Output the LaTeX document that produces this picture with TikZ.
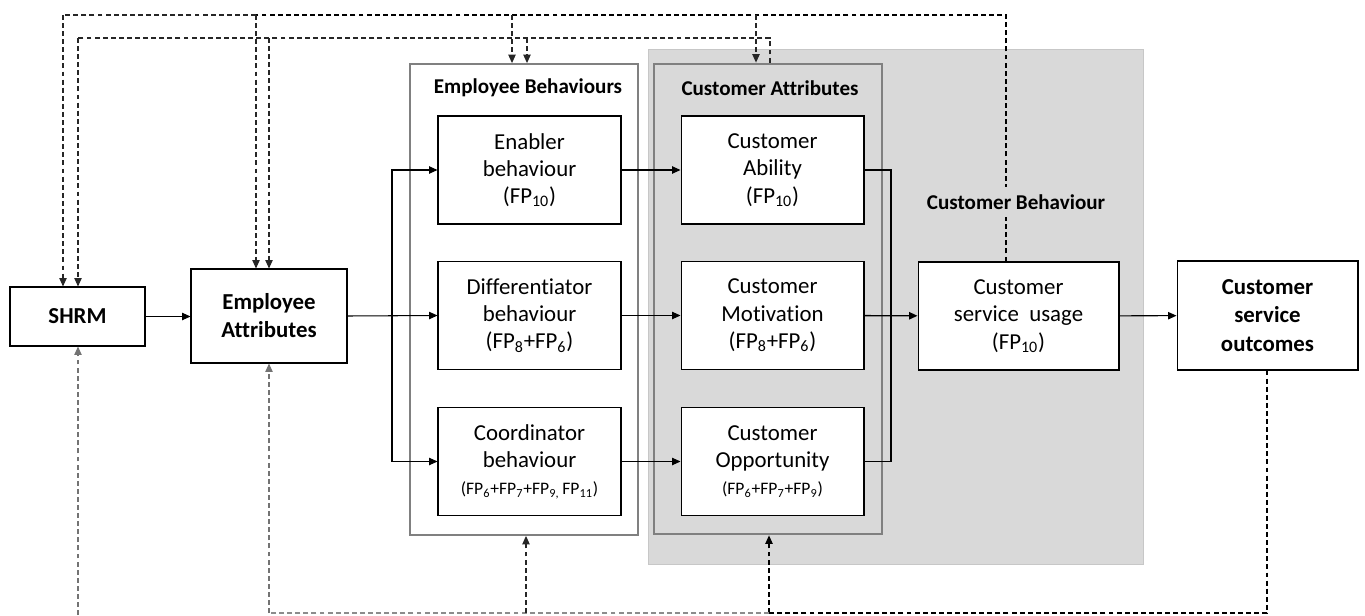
\documentclass[tikz,border=0pt]{standalone}
\usepackage{fontspec}
\setmainfont[Ligatures={NoCommon}]{Carlito}
\usetikzlibrary{arrows.meta,positioning,calc}
\newcommand{\fpsub}[1]{FP\textsubscript{#1}}

\begin{document}
\begin{tikzpicture}[
  x=0.02cm, y=-0.02cm,
  box/.style={draw=black, line width=0.6pt, fill=white, align=center, minimum width=3.66cm, minimum height=2.16cm, inner sep=2pt, font=\fontsize{13}{15.5}\selectfont},
  keybox/.style={box, font=\fontsize{13}{16}\selectfont\bfseries},
  frame/.style={draw=black!50, line width=1.1pt, minimum width=4.56cm, minimum height=9.42cm},
  title/.style={font=\fontsize{12}{14}\selectfont\bfseries},
  arr/.style={-{Triangle[length=4.8pt,width=4.2pt]}, line width=0.6pt},
  fb/.style={dash pattern=on 2.8pt off 1.8pt, line width=0.6pt, black!85},
  fbdark/.style={fb, line width=0.9pt, black},
  fblight/.style={fb, black!45},
  fbarr/.style={fb, -{Triangle[length=4.8pt,width=4.2pt]}}
]
  \useasboundingbox (0,0) rectangle (1365,615);

  %% Shaded customer zone
  \node[fill=black!15, draw=black!22, line width=0.4pt, minimum width=9.9cm, minimum height=10.3cm] (czone) at (895.5,306.5) {};

  %% Group frames and their titles
  \node[frame, fill=white] (ebeh) at (524,299.5) {};
  \node[frame] (cattr) at (768,299) {};
  \node[title] (ebehT) at (528,88) {Employee Behaviours};
  \node[title] (cattrT) at (770,88) {Customer Attributes};

  %% Left-hand blocks
  \node[keybox, minimum width=2.7cm, minimum height=1.18cm] (shrm) at (77.5,316.5) {SHRM};
  \node[keybox, minimum width=3.12cm, minimum height=1.88cm] (ea) at (269,316) {Employee\\Attributes};

  %% Employee behaviours
  \node[box] (enab) at (529.5,170) {Enabler\\behaviour\\(\fpsub{10})};
  \node[box] (diff) at (529.5,315.5) {Differentiator\\behaviour\\(\fpsub{8}+\fpsub{6})};
  \node[box] (coord) at (529.5,461.5) {Coordinator\\behaviour\\{\fontsize{10}{12}\selectfont(\fpsub{6}+\fpsub{7}+\fpsub{9,}\,\fpsub{11})}};

  %% Customer attributes
  \node[box] (abil) at (772.5,170) {Customer\\Ability\\(\fpsub{10})};
  \node[box] (motiv) at (772.5,315.5) {Customer\\Motivation\\(\fpsub{8}+\fpsub{6})};
  \node[box] (opp) at (772.5,461.5) {Customer\\Opportunity\\{\fontsize{10}{12}\selectfont(\fpsub{6}+\fpsub{7}+\fpsub{9})}};

  %% Customer behaviour and outcomes
  \node[box, minimum width=4.02cm] (csu) at (1018.5,316) {Customer\\service\ \ usage\\(\fpsub{10})};
  \node[keybox, minimum width=3.62cm, minimum height=2.18cm] (cso) at (1267.5,315.5) {Customer\\service\\outcomes};

  %% Main flow
  \coordinate (split) at (392,316);
  \coordinate (merge) at (891,316);
  \draw[arr] (shrm.east) -- (ea.west |- shrm.east);
  \draw[arr] (ea.east) -- (diff.west);
  \draw[arr] (split) |- (enab.west);
  \draw[arr] (split) |- (coord.west);
  \draw[arr] (enab) -- (abil);
  \draw[arr] (diff) -- (motiv);
  \draw[arr] (coord) -- (opp);
  \draw[line width=0.6pt] (abil.east) -| (merge) |- (opp.east);
  \draw[arr, line width=0.8pt] (motiv) -- (csu);
  \draw[arr] (csu) -- (cso);

  %% Feedback loops along the top
  \coordinate (oS) at (63,15);
  \coordinate (oE) at (256,15);
  \coordinate (oB) at (512,15);
  \coordinate (oC) at (756,15);
  \coordinate (oU) at (1006,15);
  \coordinate (iS) at (78,38);
  \coordinate (iE) at (269,38);
  \coordinate (iB) at (527,38);
  \coordinate (iC) at (770,38);

  \draw[fbdark] (csu.north -| oU) -- (oU) -- (oE);
  \draw[fb] (oE) -- (oS);
  \draw[fbarr] (oS) -- (oS |- shrm.north);
  \draw[fbarr] (oE) -- (oE |- ea.north);
  \draw[fbarr] (oB) -- (oB |- ebeh.north);
  \draw[fbarr] (oC) -- (oC |- cattr.north);

  \draw[fb] (cattr.north -| iC) -- (iC) -- (iS);
  \draw[fbarr] (iS) -- (iS |- shrm.north);
  \draw[fbarr] (iE) -- (iE |- ea.north);
  \draw[fbarr] (iB) -- (iB |- ebeh.north);

  \node[title, fill=black!15, inner xsep=2pt, inner ysep=4.5pt] (cbehT) at (1016,202) {Customer Behaviour};

  %% Feedback loops along the bottom
  \coordinate (bS) at (78,615);
  \coordinate (bE) at (269,613);
  \coordinate (bB) at (526,613);
  \coordinate (bC) at (769,613);
  \coordinate (bO) at (1267,613);

  \draw[fbdark] (cso.south -| bO) -- (bO) -- (bC);
  \draw[fbarr, black] (bC) -- (bC |- cattr.south);
  \draw[fblight] (bC) -- (bE);
  \draw[fbarr] (bB) -- (bB |- ebeh.south);
  \draw[fbarr, black!55] (bE) -- (bE |- ea.south);
  \draw[fbarr, black!55] (bS) -- (bS |- shrm.south);
\end{tikzpicture}
\end{document}
